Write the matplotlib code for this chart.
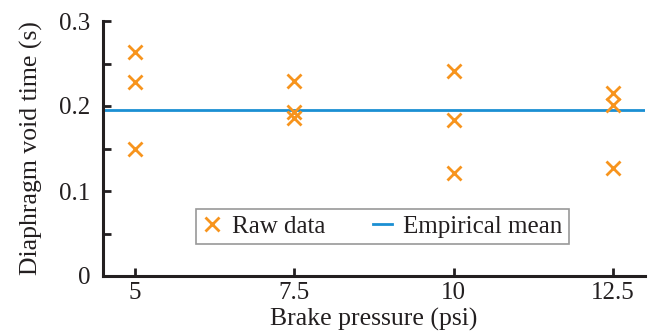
import matplotlib
matplotlib.use("Agg")
import matplotlib.pyplot as plt
import numpy as np

plt.rcParams['font.family'] = ['Liberation Serif', 'DejaVu Serif']

pressure_5 = [5, 5, 5]
pressure_75 = [7.5, 7.5, 7.5]
pressure_10 = [10, 10, 10]
pressure_125 = [12.5, 12.5, 12.5]
void_5 = [0.263, 0.228, 0.149]
void_75 = [0.229, 0.193, 0.186]
void_10 = [0.241, 0.183, 0.121]
void_125 = [0.215, 0.2015, 0.127]

x_vals = pressure_5 + pressure_75 + pressure_10 + pressure_125
y_vals = void_5 + void_75 + void_10 + void_125
mean_val = float(np.mean(y_vals))

xticks = [5, 7.5, 10, 12.5]
xtick_labels = ['5', '7.5', '10', '12.5']
yticks = [0, 0.1, 0.2, 0.3]
ytick_labels = ['0', '0.1', '0.2', '0.3']
yminor = [0.05, 0.15, 0.25]

orange = '#F7941D'
blue = '#1B8FD3'
dark = '#231F20'

fig = plt.figure(figsize=(6.48, 3.35), dpi=100)
ax = fig.add_axes([103/648, 1 - 276/335, (645-103)/648, (276-21)/335])

ax.plot(x_vals, y_vals, linestyle='none', marker='x', color=orange,
        markersize=10, markeredgewidth=2.0, label='Raw data', zorder=3)
ax.axhline(mean_val, color=blue, linewidth=2.0, label='Empirical mean', zorder=2)

ax.set_xlim(4.5, 13.0)
ax.set_ylim(0, 0.3)
ax.set_xticks(xticks)
ax.set_xticklabels(xtick_labels)
ax.set_yticks(yticks)
ax.set_yticklabels(ytick_labels)
ax.set_yticks(yminor, minor=True)

for s in ['top', 'right']:
    ax.spines[s].set_visible(False)
for s in ['left', 'bottom']:
    ax.spines[s].set_linewidth(2.2)
    ax.spines[s].set_color(dark)

ax.tick_params(axis='both', which='both', direction='in', length=6, width=2,
               color=dark, labelsize=18, labelcolor=dark)
ax.tick_params(axis='x', pad=4)
ax.tick_params(axis='y', pad=9)

ax.set_xlabel('Brake pressure (psi)', fontsize=18.5, color=dark, labelpad=3)
ax.set_ylabel('Diaphragm void time (s)', fontsize=18.5, color=dark, labelpad=12)

leg = ax.legend(loc='upper left', bbox_to_anchor=((196-103)/542, (276-209)/255),
                ncol=2, fontsize=18, frameon=True, fancybox=False,
                edgecolor='#7F7F7F', handlelength=0.75, handletextpad=0.45,
                columnspacing=1.9, borderpad=0.25, borderaxespad=0)
leg.get_frame().set_linewidth(1.2)
for t in leg.get_texts():
    t.set_color(dark)

fig.savefig('out.png', dpi=100)
